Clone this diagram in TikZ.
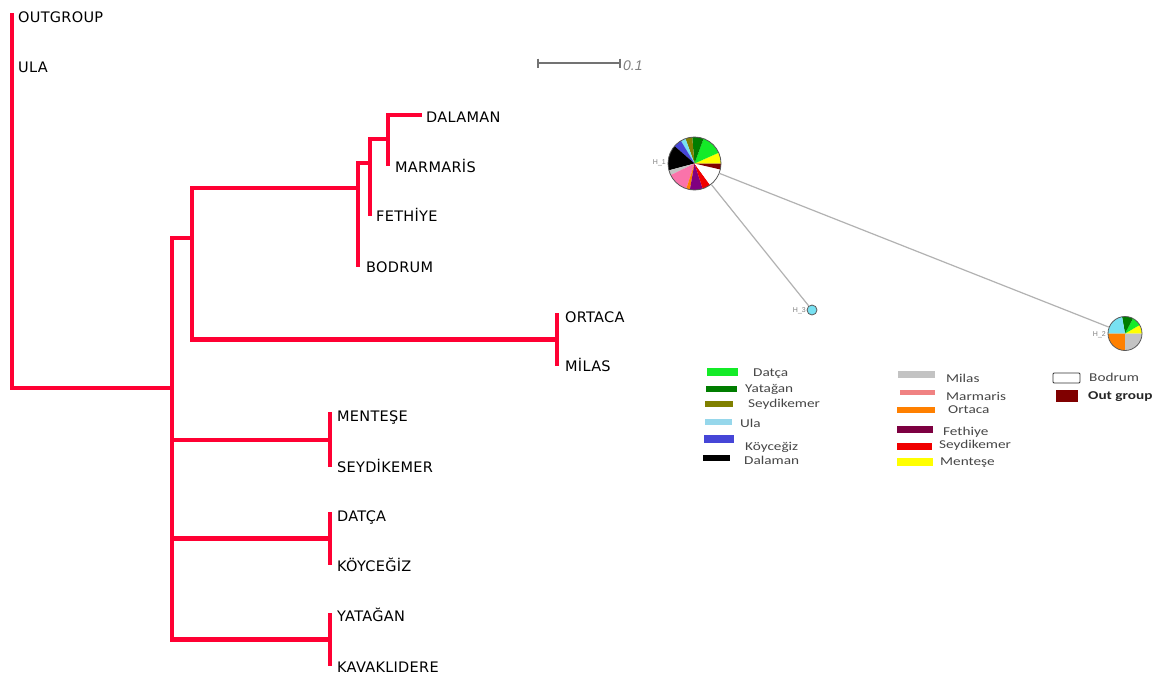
\documentclass[tikz,border=0pt]{standalone}
\usepackage{fontspec}
\usepackage{graphicx}
\usetikzlibrary{calc}
\setmainfont{Liberation Sans}
\newfontfamily\treefont[LetterSpace=2]{DejaVu Sans}
\newfontfamily\lgfont{Carlito}
\definecolor{treered}{RGB}{255,0,51}
\definecolor{datC}{RGB}{20,235,40}
\definecolor{yatC}{RGB}{0,125,0}
\definecolor{seyoC}{RGB}{128,128,0}
\definecolor{ulaC}{RGB}{120,225,242}
\definecolor{ulaL}{RGB}{150,215,235}
\definecolor{koyC}{RGB}{70,70,215}
\definecolor{milC}{RGB}{195,195,195}
\definecolor{marC}{RGB}{250,115,170}
\definecolor{marL}{RGB}{240,130,130}
\definecolor{ortC}{RGB}{255,128,0}
\definecolor{fetC}{RGB}{128,0,128}
\definecolor{fetL}{RGB}{125,0,65}
\definecolor{seyrC}{RGB}{240,0,0}
\definecolor{menC}{RGB}{255,255,0}
\definecolor{outC}{RGB}{128,0,0}
\definecolor{lgtext}{RGB}{70,70,70}
\newcommand{\myslice}[5]{\fill[#5] (#1) -- ++(-#3:#2) arc[start angle=-#3, end angle=-#4, radius=#2] -- cycle;}
\newcommand{\lgt}[1]{\scalebox{1.27}[1]{#1}}
\begin{document}
\begin{tikzpicture}[x=1pt,y=-1pt,
  br/.style={draw=treered, line width=4.2pt, line join=miter},
  tiplabel/.style={anchor=base west, inner sep=0pt, font=\treefont\fontsize{14.5}{16}\selectfont},
  scalebar/.style={draw=gray!90!black, line width=1.2pt},
  hap/.style={circle, draw=gray!70!black, line width=0.8pt, inner sep=0pt},
  edge/.style={draw=gray!60, line width=1.2pt},
  hlab/.style={anchor=east, inner sep=0pt, text=gray, font=\fontsize{7}{8}\selectfont},
  lgl/.style={anchor=west, inner sep=0pt, text=lgtext, font=\lgfont\fontsize{12}{13}\selectfont}]
\fill[white] (0,0) rectangle (1157,675);
\useasboundingbox (0,0) rectangle (1157,675);

% ---------- tree ----------
\coordinate (tOut) at (12,13);
\coordinate (tUla) at (12,66);
\coordinate (c1) at (172,388);
\coordinate (c2) at (192,238);
\coordinate (c3) at (358,188);
\coordinate (c4) at (557,339.5);
\coordinate (c8) at (370,163);
\coordinate (c9) at (388,139);
\coordinate (tDal) at (422,115);
\coordinate (tMar) at (388,166);
\coordinate (tFet) at (370,216);
\coordinate (tBod) at (358,267);
\coordinate (tOrt) at (557,313);
\coordinate (tMil) at (557,366);
\coordinate (c5) at (330,440);
\coordinate (tMen) at (330,412);
\coordinate (tSey) at (330,467);
\coordinate (c6) at (330,538.5);
\coordinate (tDat) at (330,512);
\coordinate (tKoy) at (330,565);
\coordinate (c7) at (330,639.5);
\coordinate (tYat) at (330,613);
\coordinate (tKav) at (330,666);

\draw[br] (tOut) |- (c1);
\draw[br] (c1) |- (c2);
\draw[br] (c1) |- (c5);
\draw[br] (c1) |- (c6);
\draw[br] (c1) |- (c7);
\draw[br] (c2) |- (c3);
\draw[br] (c2) |- (c4);
\draw[br] (c3) |- (c8);
\draw[br] (c3) -- (tBod);
\draw[br] (c8) |- (c9);
\draw[br] (c8) -- (tFet);
\draw[br] (c9) |- (tDal);
\draw[br] (c9) -- (tMar);
\draw[br] (c4) -- (tOrt);
\draw[br] (c4) -- (tMil);
\draw[br] (c5) -- (tMen);
\draw[br] (c5) -- (tSey);
\draw[br] (c6) -- (tDat);
\draw[br] (c6) -- (tKoy);
\draw[br] (c7) -- (tYat);
\draw[br] (c7) -- (tKav);

\node[tiplabel] (lOut) at (18,22) {OUTGROUP};
\node[tiplabel] (lUla) at (18,72) {ULA};
\node[tiplabel] (lDal) at (426,122) {DALAMAN};
\node[tiplabel] (lMar) at (395,172) {MARMARİS};
\node[tiplabel] (lFet) at (376,221) {FETHİYE};
\node[tiplabel] (lBod) at (366,272) {BODRUM};
\node[tiplabel] (lOrt) at (565,322) {ORTACA};
\node[tiplabel] (lMil) at (565,371) {MİLAS};
\node[tiplabel] (lMen) at (337,421) {MENTEŞE};
\node[tiplabel] (lSey) at (337,472) {SEYDİKEMER};
\node[tiplabel] (lDat) at (337,521.5) {DATÇA};
\node[tiplabel] (lKoy) at (337,571) {KÖYCEĞİZ};
\node[tiplabel] (lYat) at (337,621.5) {YATAĞAN};
\node[tiplabel] (lKav) at (337,672) {KAVAKLIDERE};

% ---------- scale bar ----------
\coordinate (sbL) at (538,63);
\coordinate (sbR) at (620,63);
\draw[scalebar] (sbL) -- (sbR);
\draw[scalebar] ($(sbL)+(0,-4.5)$) -- ($(sbL)+(0,4.5)$);
\draw[scalebar] ($(sbR)+(0,-4.5)$) -- ($(sbR)+(0,4.5)$);
\node[anchor=base west, inner sep=0pt, text=gray, font=\itshape\fontsize{14}{15}\selectfont] (sbt) at (623,70) {0.1};

% ---------- haplotype network ----------
\coordinate (p1) at (694.5,163.5);
\coordinate (p2) at (1125,333.5);
\coordinate (p3) at (812,310);

\myslice{p1}{26.5}{0}{24}{menC}
\myslice{p1}{26.5}{24}{70}{datC}
\myslice{p1}{26.5}{70}{95}{yatC}
\myslice{p1}{26.5}{95}{110}{seyoC}
\myslice{p1}{26.5}{110}{121}{ulaC}
\myslice{p1}{26.5}{121}{139}{koyC}
\myslice{p1}{26.5}{139}{195}{black}
\myslice{p1}{26.5}{195}{206}{milC}
\myslice{p1}{26.5}{206}{252}{marC}
\myslice{p1}{26.5}{252}{260}{ortC}
\myslice{p1}{26.5}{260}{288}{fetC}
\myslice{p1}{26.5}{288}{306}{seyrC}
\myslice{p1}{26.5}{306}{347}{white}
\myslice{p1}{26.5}{347}{360}{outC}

\myslice{p2}{17}{0}{30}{menC}
\myslice{p2}{17}{30}{62}{datC}
\myslice{p2}{17}{62}{100}{yatC}
\myslice{p2}{17}{100}{180}{ulaC}
\myslice{p2}{17}{180}{270}{ortC}
\myslice{p2}{17}{270}{360}{milC}

\node[hap, minimum size=53pt] (h1) at (p1) {};
\node[hap, minimum size=34pt] (h2) at (p2) {};
\node[hap, minimum size=10pt, fill=ulaC] (h3) at (p3) {};

\draw[edge] (h1) -- (h3);
\draw[edge] (h1) -- (h2);

\node[hlab] (hl1) at (666,163) {H\_1};
\node[hlab] (hl2) at (1106,335) {H\_2};
\node[hlab] (hl3) at (806,311) {H\_3};

% ---------- legend ----------
\fill[datC] (707,368) rectangle (738,376);
\node[lgl] (gDat) at (753,374) {\lgt{Datça}};
\fill[yatC] (706,386) rectangle (737,392);
\node[lgl] (gYat) at (745,389) {\lgt{Yatağan}};
\fill[seyoC] (705,401) rectangle (733,407);
\node[lgl] (gSeyo) at (748,404) {\lgt{Seydikemer}};
\fill[ulaL] (705,419) rectangle (732,425);
\node[lgl] (gUla) at (740,423) {\lgt{Ula}};
\fill[koyC] (704,435) rectangle (734,443);
\node[lgl] (gKoy) at (745,447) {\lgt{Köyceğiz}};
\fill[black] (703,455) rectangle (730,461);
\node[lgl] (gDal) at (744,460) {\lgt{Dalaman}};

\fill[milC] (898,371) rectangle (935,378);
\node[lgl] (gMil) at (946,378) {\lgt{Milas}};
\fill[marL] (900,390) rectangle (935,395);
\node[lgl] (gMar) at (946,396) {\lgt{Marmaris}};
\fill[ortC] (897,407) rectangle (935,413);
\node[lgl] (gOrt) at (948,410) {\lgt{Ortaca}};
\fill[fetL] (897,426) rectangle (933,433);
\node[lgl] (gFet) at (943,432) {\lgt{Fethiye}};
\fill[seyrC] (897,443) rectangle (932,450);
\node[lgl] (gSeyr) at (939,445) {\lgt{Seydikemer}};
\fill[menC] (897,458) rectangle (933,466);
\node[lgl] (gMen) at (940,463) {\lgt{Menteşe}};

\draw[black!80, line width=0.9pt, rounded corners=1pt] (1053,373) rectangle (1080,383);
\node[lgl] (gBod) at (1089,377) {\lgt{Bodrum}};
\fill[outC] (1056,390) rectangle (1078,402);
\node[lgl, text=black!85] (gOut) at (1088,397) {\lgt{\bfseries Out group}};
\end{tikzpicture}
\end{document}
